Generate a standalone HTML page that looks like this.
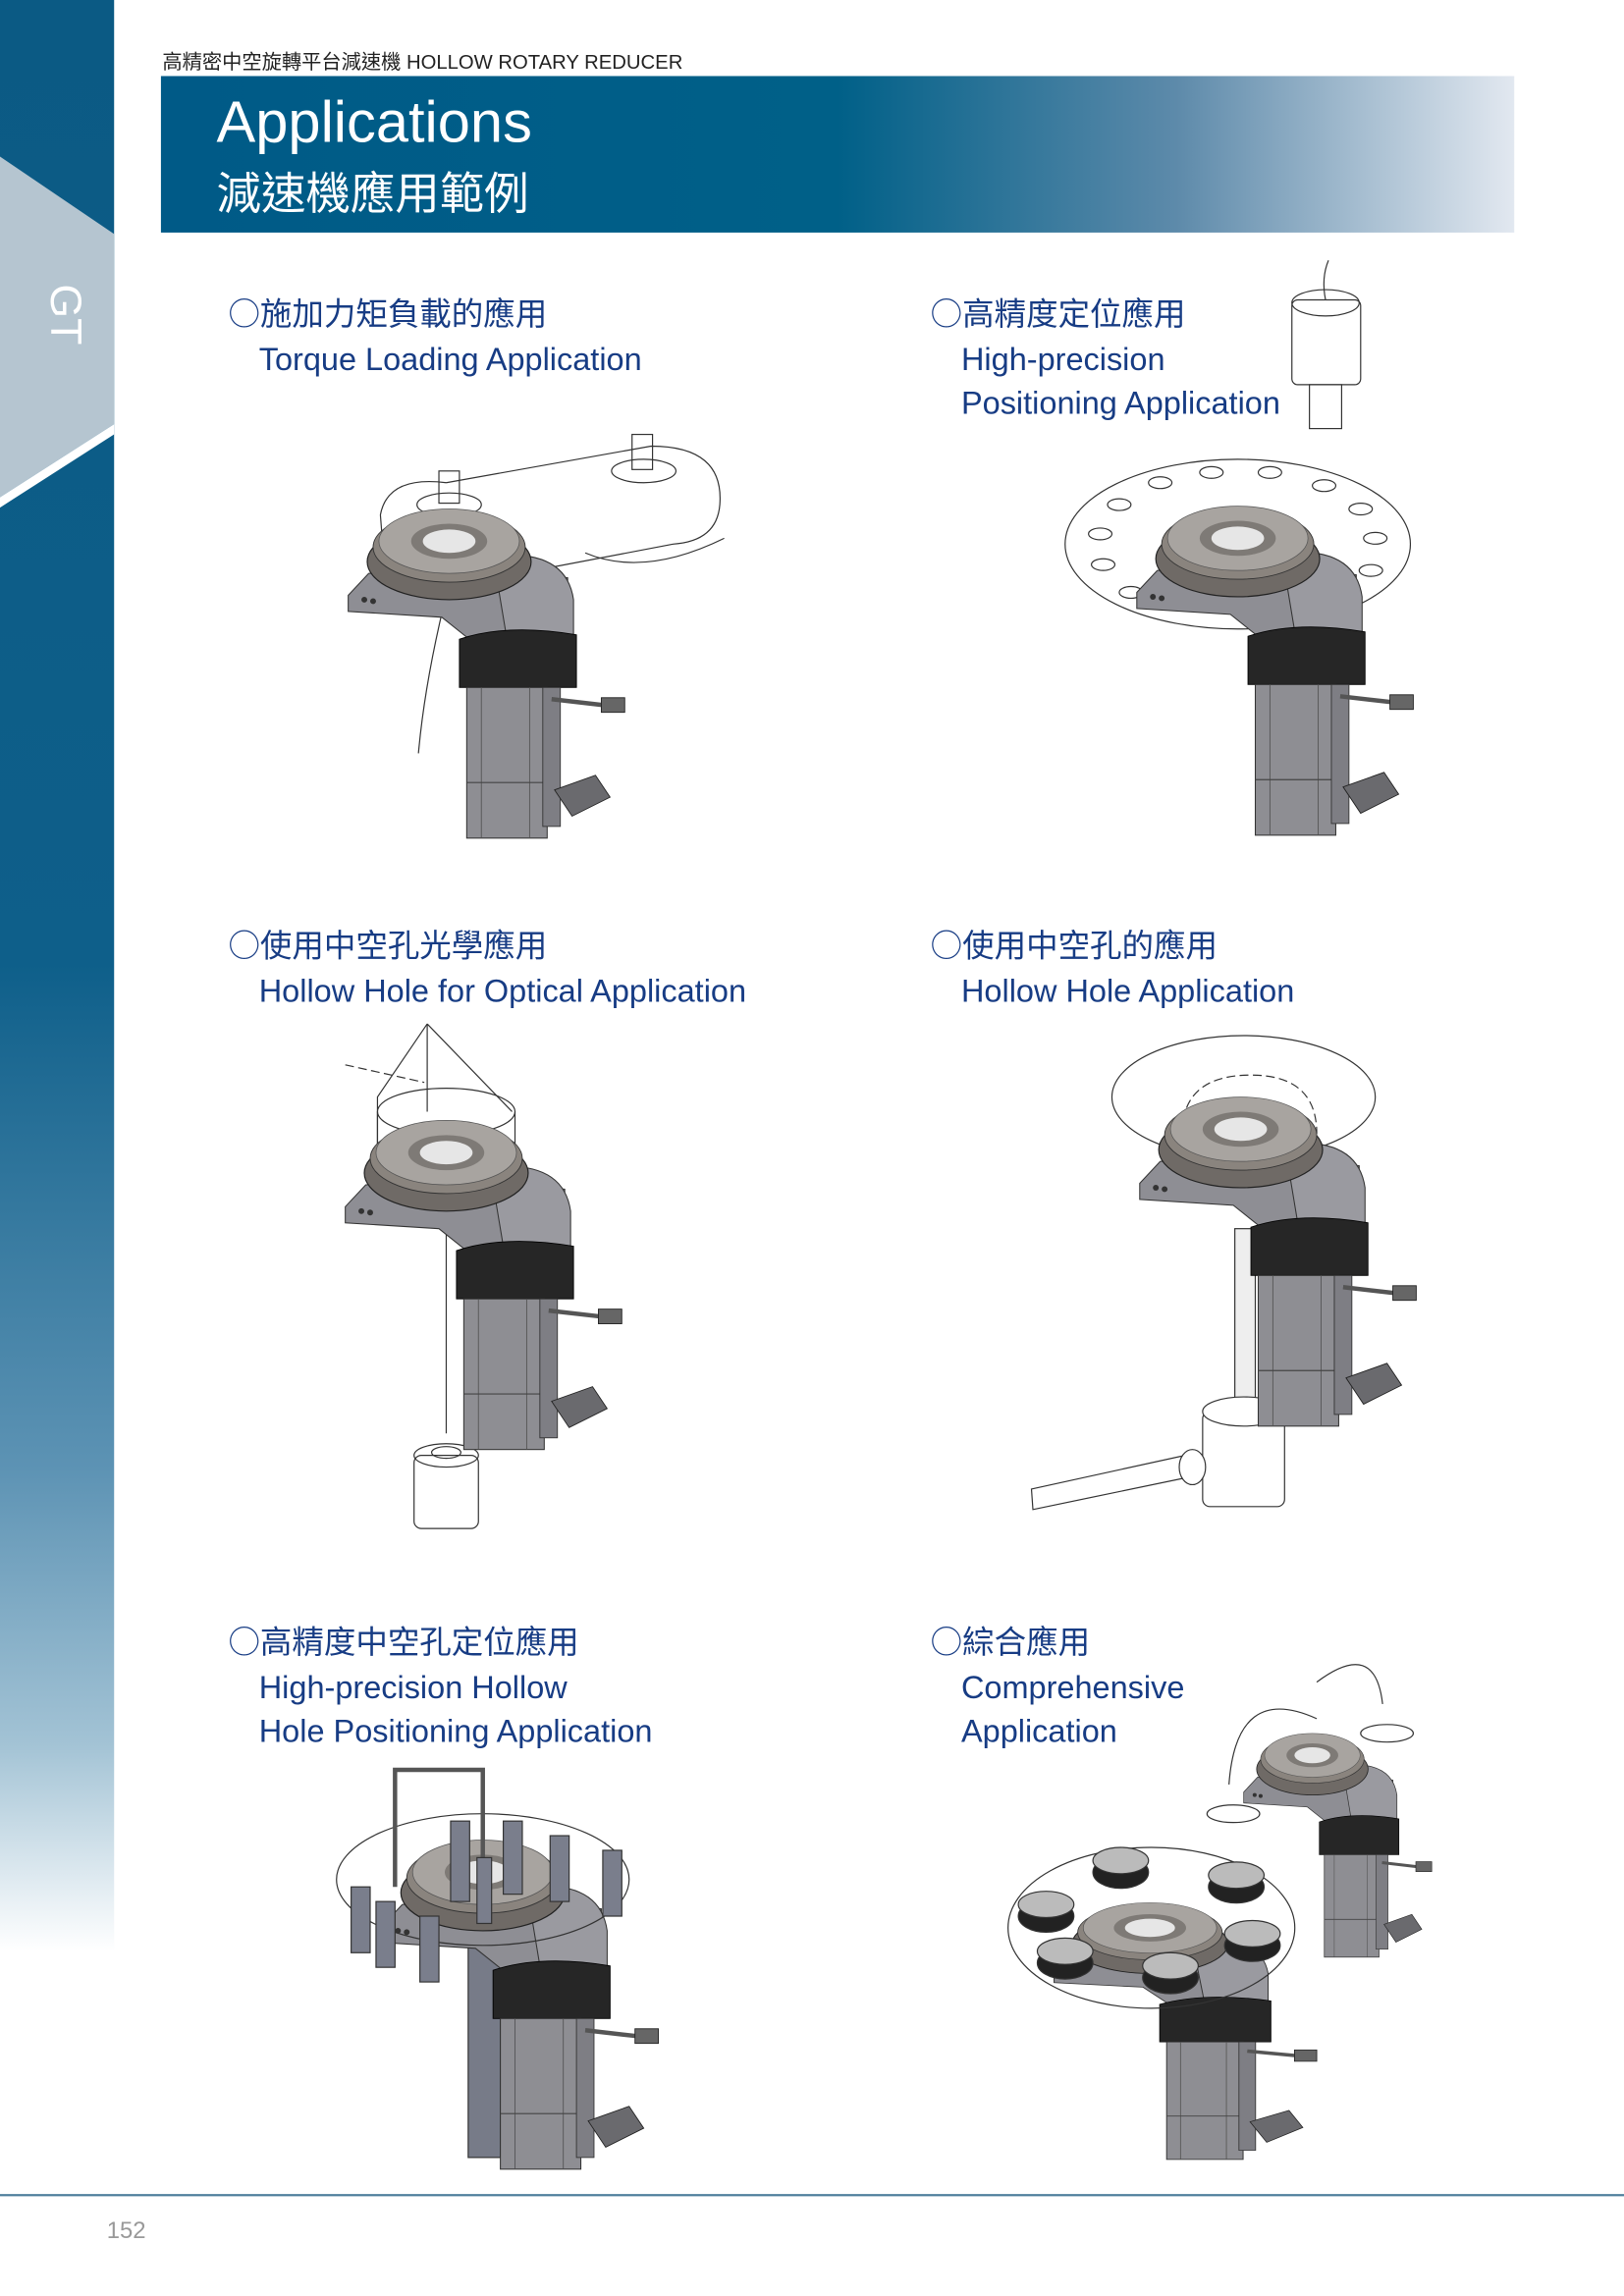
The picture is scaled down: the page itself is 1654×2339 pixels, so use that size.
<!DOCTYPE html>
<html><head><meta charset="utf-8"><style>
html,body{margin:0;padding:0;background:#fff;}
svg{display:block;}
text{font-family:"Liberation Sans","Noto Sans CJK TC",sans-serif;}
.c{font-family:"Noto Sans CJK TC",sans-serif;}
</style></head><body>
<svg width="1654" height="2339" viewBox="0 0 1110 1569.7" xmlns="http://www.w3.org/2000/svg">
<defs>
<linearGradient id="bar" x1="0" y1="0" x2="0" y2="1">
<stop offset="0" stop-color="#0b5a84"/><stop offset="0.42" stop-color="#0e5f8a"/>
<stop offset="0.64" stop-color="#5d93b4"/><stop offset="0.76" stop-color="#a3c3d5"/>
<stop offset="0.85" stop-color="#ffffff"/><stop offset="1" stop-color="#ffffff"/>
</linearGradient>
<linearGradient id="band" x1="0" y1="0" x2="1" y2="0">
<stop offset="0" stop-color="#005a87"/><stop offset="0.5" stop-color="#006088"/>
<stop offset="0.75" stop-color="#5d8aaa"/><stop offset="1" stop-color="#e2e8f0"/>
</linearGradient>
<g id="act">
<polygon points="-69,37 -55,22 40,20 81,25 81,60 40,70 20,72 -5,52 -69,48" fill="#8e8e94" stroke="#333" stroke-width="0.7"/>
<circle cx="-58" cy="40" r="2" fill="#333"/><circle cx="-52" cy="41" r="2" fill="#333"/>
<path d="M30,10 Q80,5 85,40 L85,68 L40,70 Z" fill="#9a9aa0" stroke="#333" stroke-width="0.7"/>
<ellipse cx="0" cy="14" rx="56" ry="26" fill="#6f6a66" stroke="#222" stroke-width="0.8"/>
<ellipse cx="0" cy="4" rx="52" ry="24" fill="#8a847e" stroke="#333" stroke-width="0.6"/>
<ellipse cx="0" cy="0" rx="48" ry="22" fill="#a8a4a0" stroke="#555" stroke-width="0.5"/>
<ellipse cx="0" cy="0" rx="26" ry="12" fill="#7e7a76"/>
<ellipse cx="0" cy="0" rx="18" ry="8" fill="#e6e6e6"/>
<path d="M7,67 Q40,56 87,64 L87,100 L7,100 Z" fill="#262626" stroke="#000" stroke-width="0.6"/>
<rect x="12" y="100" width="55" height="103" fill="#8e8e93" stroke="#333" stroke-width="0.7"/>
<line x1="22" y1="100" x2="22" y2="203" stroke="#555" stroke-width="0.6"/>
<line x1="55" y1="100" x2="55" y2="203" stroke="#555" stroke-width="0.6"/>
<line x1="12" y1="165" x2="67" y2="165" stroke="#444" stroke-width="0.8"/>
<rect x="64" y="100" width="12" height="95" fill="#7e7e84" stroke="#333" stroke-width="0.6"/>
<path d="M70,108 L105,112" stroke="#555" stroke-width="3"/>
<rect x="104" y="107" width="16" height="10" fill="#666" stroke="#222" stroke-width="0.6"/>
<polygon points="72,170 100,160 110,175 84,188" fill="#6a6a6e" stroke="#222" stroke-width="0.6"/>
</g>
</defs>
<rect x="0" y="0" width="1110" height="1569.7" fill="#fff"/>
<rect x="0" y="0" width="78" height="1569.7" fill="url(#bar)"/>
<polygon points="0,107 78,160 78,290 0,340" fill="#b5c5d0"/>
<polygon points="0,340 78,290 78,297 0,347" fill="#fff"/>
<text transform="translate(35,215) rotate(90)" font-size="30" fill="#fff" text-anchor="middle">GT</text>
<text x="111" y="47" font-size="13.6" fill="#222">高精密中空旋轉平台減速機  HOLLOW ROTARY REDUCER</text>
<rect x="110" y="52" width="925" height="107" fill="url(#band)"/>
<text x="148" y="97" font-size="40" fill="#fff">Applications</text>
<text x="148" y="143" font-size="30.5" fill="#fff">減速機應用範例</text>
<g fill="#173c84" font-size="21.8">
<text x="156" y="222"><tspan class="c">○</tspan>施加力矩負載的應用</text>
<text x="177" y="253">Torque Loading Application</text>
<text x="636" y="222"><tspan class="c">○</tspan>高精度定位應用</text>
<text x="657" y="253">High-precision</text>
<text x="657" y="283">Positioning Application</text>
<text x="156" y="654"><tspan class="c">○</tspan>使用中空孔光學應用</text>
<text x="177" y="685">Hollow Hole for Optical Application</text>
<text x="636" y="654"><tspan class="c">○</tspan>使用中空孔的應用</text>
<text x="657" y="685">Hollow Hole Application</text>
<text x="156" y="1130"><tspan class="c">○</tspan>高精度中空孔定位應用</text>
<text x="177" y="1161">High-precision Hollow</text>
<text x="177" y="1191">Hole Positioning Application</text>
<text x="636" y="1130"><tspan class="c">○</tspan>綜合應用</text>
<text x="657" y="1161">Comprehensive</text>
<text x="657" y="1191">Application</text>
</g>
<g fill="none" stroke="#333" stroke-width="0.8">
<path d="M305,330 L445,305 Q495,305 492,345 Q490,370 460,372 L355,392"/>
<path d="M260,352 Q265,325 305,330"/><line x1="260" y1="352" x2="262" y2="378"/>
<path d="M400,378 Q440,395 495,368"/>
<rect x="300" y="322" width="14" height="22"/><rect x="432" y="297" width="14" height="24"/>
<ellipse cx="440" cy="322" rx="22" ry="8"/><ellipse cx="307" cy="345" rx="22" ry="8"/>
<path d="M303,415 Q290,470 286,515"/>
</g>
<use href="#act" x="307" y="370"/>
<g fill="none" stroke="#333" stroke-width="0.8">
<ellipse cx="846" cy="372" rx="118" ry="58"/>
<ellipse cx="793" cy="330" rx="8" ry="4"/><ellipse cx="828" cy="323" rx="8" ry="4"/><ellipse cx="868" cy="323" rx="8" ry="4"/><ellipse cx="905" cy="332" rx="8" ry="4"/>
<ellipse cx="930" cy="348" rx="8" ry="4"/><ellipse cx="940" cy="368" rx="8" ry="4"/><ellipse cx="937" cy="390" rx="8" ry="4"/>
<ellipse cx="765" cy="345" rx="8" ry="4"/><ellipse cx="752" cy="365" rx="8" ry="4"/><ellipse cx="754" cy="386" rx="8" ry="4"/><ellipse cx="773" cy="405" rx="8" ry="4"/>
<rect x="883" y="205" width="47" height="58" rx="4"/><ellipse cx="906" cy="207" rx="23" ry="9"/>
<rect x="895" y="263" width="22" height="30"/><path d="M906,205 Q903,190 908,178"/>
</g>
<use href="#act" x="846" y="368"/>
<g fill="none" stroke="#333" stroke-width="0.8">
<path d="M292,700 L258,750 L258,790 M292,700 L350,760 M292,700 L292,760"/>
<path d="M236,728 L290,740" stroke-dasharray="6,3"/>
<ellipse cx="305" cy="760" rx="47" ry="16"/><line x1="258" y1="760" x2="258" y2="805"/><line x1="352" y1="760" x2="352" y2="805"/>
<line x1="305" y1="840" x2="305" y2="980"/>
<rect x="283" y="995" width="44" height="50" rx="5"/><ellipse cx="305" cy="995" rx="22" ry="8"/><ellipse cx="305" cy="993" rx="10" ry="4"/>
</g>
<use href="#act" x="305" y="788"/>
<g fill="none" stroke="#333" stroke-width="0.8">
<ellipse cx="850" cy="750" rx="90" ry="42"/>
<path d="M808,775 Q808,735 855,735 Q900,735 900,775" stroke-dasharray="6,3"/>
<rect x="844" y="840" width="14" height="120" fill="#eee"/>
<rect x="822" y="965" width="56" height="65" rx="5" fill="#fff"/><ellipse cx="850" cy="965" rx="28" ry="10" fill="#fff"/>
<polygon points="705,1018 810,995 812,1010 706,1032" fill="#fff"/>
<ellipse cx="815" cy="1003" rx="9" ry="12" fill="#fff"/>
</g>
<use href="#act" x="848" y="772"/>
<g stroke="#333" stroke-width="0.8">
<rect x="320" y="1330" width="22" height="145" fill="#777b88"/>
</g>
<use href="#act" x="330" y="1280"/>
<g stroke="#333" stroke-width="0.8">
<ellipse cx="330" cy="1285" rx="100" ry="45" fill="none"/>
<path d="M270,1290 L270,1210 L330,1210 L330,1280" fill="none" stroke="#555" stroke-width="3"/>
<g fill="#7a7e8c">
<rect x="308" y="1245" width="13" height="55"/><rect x="344" y="1245" width="13" height="50"/><rect x="376" y="1255" width="13" height="45"/>
<rect x="412" y="1265" width="13" height="45"/><rect x="240" y="1290" width="13" height="45"/><rect x="257" y="1300" width="13" height="45"/>
<rect x="287" y="1310" width="13" height="45"/><rect x="326" y="1270" width="10" height="45"/>
</g>
</g>
<g transform="translate(897,1200) scale(0.68)"><use href="#act" x="0" y="0"/></g>
<g transform="translate(786,1318) scale(0.95,0.78)"><use href="#act" x="0" y="0"/></g>
<g stroke="#333" stroke-width="0.8">
<ellipse cx="787" cy="1318" rx="98" ry="55" fill="none"/>
<g fill="#222">
<ellipse cx="766" cy="1280" rx="19" ry="11"/><ellipse cx="845" cy="1290" rx="19" ry="11"/><ellipse cx="715" cy="1310" rx="19" ry="11"/>
<ellipse cx="856" cy="1330" rx="19" ry="11"/><ellipse cx="728" cy="1342" rx="19" ry="11"/><ellipse cx="800" cy="1352" rx="19" ry="11"/>
</g>
<g fill="#bbb">
<ellipse cx="766" cy="1272" rx="19" ry="9"/><ellipse cx="845" cy="1282" rx="19" ry="9"/><ellipse cx="715" cy="1302" rx="19" ry="9"/>
<ellipse cx="856" cy="1322" rx="19" ry="9"/><ellipse cx="728" cy="1334" rx="19" ry="9"/><ellipse cx="800" cy="1344" rx="19" ry="9"/>
</g>
<path d="M840,1220 Q845,1150 900,1175 M900,1150 Q940,1120 945,1165" fill="none"/>
<ellipse cx="843" cy="1240" rx="18" ry="6" fill="#fff"/><ellipse cx="948" cy="1185" rx="18" ry="6" fill="#fff"/>
</g>
<rect x="0" y="1500" width="1110" height="1.5" fill="#4f7f9d"/>
<text x="73" y="1530" font-size="16" fill="#999">152</text>
</svg>
</body></html>
